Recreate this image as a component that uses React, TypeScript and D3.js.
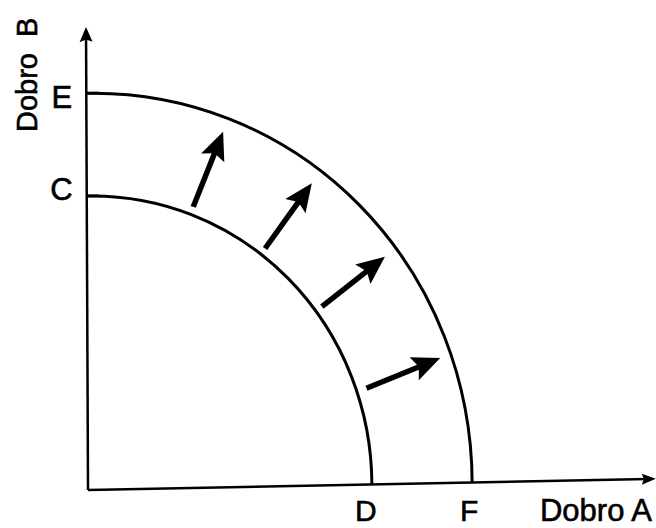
import React from 'react';
import * as d3 from 'd3';

// intercepts of the two production possibility frontiers (goods units)
const curveNames = ['inner', 'outer'];
const interceptA = [5.07, 6.86]; // D, F
const interceptB = [6.35, 8.57]; // C, E
const labelsA = ['D', 'F'];
const labelsB = ['C', 'E'];

// shift arrows: tail and tip as [goodA, goodB]
const arrowTails = [
  [1.9, 6.07],
  [3.18, 5.14],
  [4.19, 3.86],
  [4.98, 2.08],
];
const arrowTips = [
  [2.44, 7.68],
  [4.02, 6.53],
  [5.32, 4.91],
  [6.3, 2.7],
];

const axisMax = [10.14, 10];
const axisTitles = ['Dobro A', 'Dobro  B'];

const width = 656, height = 528;
const originX = 88, originY = 490;
const FONT = '"Liberation Sans", Arial, Helvetica, sans-serif';

const x = d3.scaleLinear().domain([0, 10]).range([0, 560]);
const y = d3.scaleLinear().domain([0, 10]).range([0, -463]);

// scan is slightly sheared: x axis rises ~1.1deg, y axis leans ~0.25deg
const shear = `matrix(1,-0.0196,0.0043,1,${originX},${originY})`;
const toPx = (u: number, v: number) => [originX + u + 0.0043 * v, originY - 0.0196 * u + v];

// filled arrow head with a small notch, pointing from (x0,y0) toward (x1,y1)
function headPath(x0: number, y0: number, x1: number, y1: number, len: number, half: number, notch: number) {
  const a = Math.atan2(y1 - y0, x1 - x0);
  const ux = Math.cos(a), uy = Math.sin(a);
  const nx = -uy, ny = ux;
  const bx = x1 - ux * len, by = y1 - uy * len;
  const p = [
    [x1, y1],
    [bx + nx * half, by + ny * half],
    [bx + ux * notch, by + uy * notch],
    [bx - nx * half, by - ny * half],
  ];
  return 'M' + p.map(d => d.join(',')).join('L') + 'Z';
}

// scanned text looks a bit heavier than regular weight
const textStyle = {
  fontFamily: FONT,
  fill: '#000',
  stroke: '#000',
  strokeWidth: 0.6,
};

// baseline of the bottom labels, kept just inside the frame
const bottomBaseline = 521;

export default function App() {
  const xEnd = x(axisMax[0]);
  const yEnd = y(axisMax[1]);

  return (
    <svg
      width={width}
      height={height}
      style={{ position: 'absolute', left: 0, top: 0, background: '#fff' }}
    >
      <rect width={width} height={height} fill="#fff" />
      <g transform={shear}>
        {/* axes */}
        <line x1={0} y1={0} x2={xEnd - 8} y2={0} stroke="#000" strokeWidth={2.5} />
        <path d={headPath(0, 0, xEnd, 0, 14, 5.5, 2)} fill="#000" />
        <line x1={0} y1={0} x2={0} y2={yEnd + 10} stroke="#000" strokeWidth={2.5} />
        <path d={headPath(0, 0, 0, yEnd, 15, 6.5, 2.5)} fill="#000" />

        {/* ticks at the B intercepts */}
        {interceptB.map((v, i) => (
          <line key={'t' + i} x1={0} x2={12} y1={y(v)} y2={y(v)} stroke="#000" strokeWidth={2.5} />
        ))}

        {/* frontiers as quarter ellipses */}
        {curveNames.map((name, i) => (
          <path
            key={name}
            d={`M0,${y(interceptB[i])} A${x(interceptA[i])},${-y(interceptB[i])} 0 0 1 ${x(interceptA[i])},0`}
            fill="none"
            stroke="#000"
            strokeWidth={3}
          />
        ))}

        {/* outward shift arrows */}
        {arrowTails.map((t, i) => {
          const x0 = x(t[0]), y0 = y(t[1]);
          const x1 = x(arrowTips[i][0]), y1 = y(arrowTips[i][1]);
          const a = Math.atan2(y1 - y0, x1 - x0);
          return (
            <g key={'a' + i}>
              <line
                x1={x0}
                y1={y0}
                x2={x1 - Math.cos(a) * 20}
                y2={y1 - Math.sin(a) * 20}
                stroke="#000"
                strokeWidth={5.5}
              />
              <path d={headPath(x0, y0, x1, y1, 28, 12.5, 5)} fill="#000" />
            </g>
          );
        })}
      </g>

      {/* intercept labels */}
      {labelsB.map((l, i) => {
        const [px, py] = toPx(0, y(interceptB[i]));
        return (
          <text
            key={l}
            x={px - 14}
            y={py + (i === 0 ? 4 : 15)}
            textAnchor="end"
            fontSize={31}
            style={textStyle}
          >
            {l}
          </text>
        );
      })}
      {labelsA.map((l, i) => {
        const [px] = toPx(x(interceptA[i]), 0);
        return (
          <text
            key={l}
            x={px - (i === 0 ? 6 : 3)}
            y={bottomBaseline}
            textAnchor="middle"
            fontSize={30}
            style={textStyle}
          >
            {l}
          </text>
        );
      })}

      {/* axis titles */}
      <text x={652} y={bottomBaseline} textAnchor="end" fontSize={31} style={textStyle}>
        {axisTitles[0]}
      </text>
      <text
        transform="translate(37,132) rotate(-90)"
        fontSize={29}
        style={{ ...textStyle, whiteSpace: 'pre' }}
      >
        {axisTitles[1]}
      </text>
    </svg>
  );
}
